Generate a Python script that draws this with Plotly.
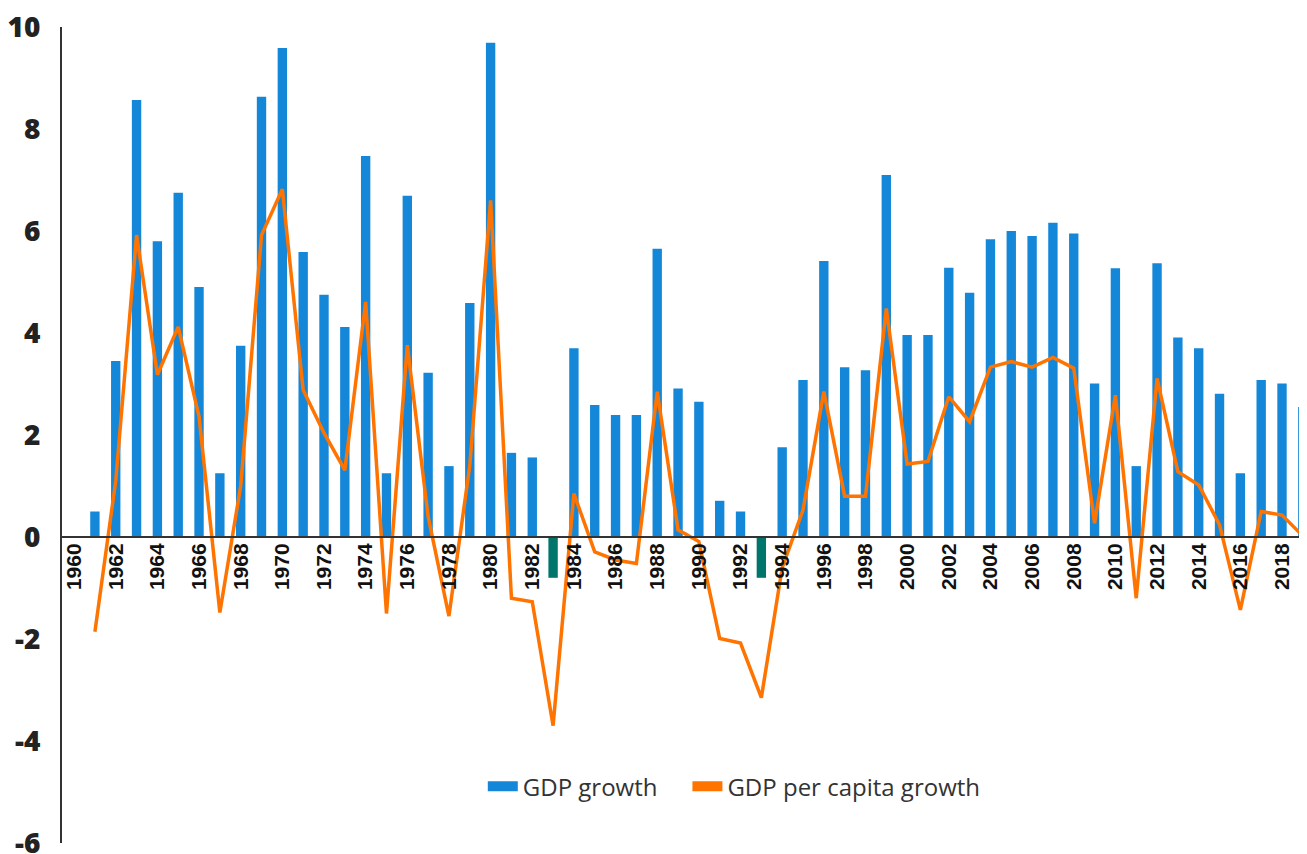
import plotly.graph_objects as go

years = list(range(1961, 2020))

gdp_growth = [0.5, 3.45, 8.57, 5.8, 6.75, 4.9, 1.25, 3.75, 8.63, 9.59,
              5.59, 4.75, 4.12, 7.47, 1.25, 6.69, 3.22, 1.39, 4.59, 9.69,
              1.65, 1.56, -0.8, 3.7, 2.59, 2.39, 2.39, 5.65, 2.91, 2.65,
              0.71, 0.5, -0.8, 1.76, 3.08, 5.41, 3.33, 3.27, 7.1, 3.96,
              3.96, 5.28, 4.79, 5.84, 6.0, 5.9, 6.16, 5.95, 3.01, 5.27,
              1.39, 5.37, 3.91, 3.7, 2.81, 1.25, 3.08, 3.01, 2.55]

gdp_pc_growth = [-1.86, 1.1, 5.92, 3.18, 4.12, 2.36, -1.48, 1.0, 5.92, 6.82,
                 2.88, 2.04, 1.31, 4.61, -1.5, 3.76, 0.4, -1.55, 1.4, 6.6,
                 -1.2, -1.27, -3.7, 0.85, -0.29, -0.45, -0.52, 2.85, 0.14, -0.09,
                 -1.99, -2.08, -3.15, -0.6, 0.53, 2.85, 0.8, 0.8, 4.48, 1.43,
                 1.48, 2.75, 2.26, 3.33, 3.44, 3.33, 3.52, 3.31, 0.27, 2.78,
                 -1.2, 3.11, 1.28, 1.02, 0.24, -1.43, 0.5, 0.43, 0.02]

tick_years = list(range(1960, 2019, 2))
y_ticks = [-6, -4, -2, 0, 2, 4, 6, 8, 10]
y_tick_text = ["-6", "-4", "-2", "0", "2", "4", "6", "8", "10"]

BLUE = "#1487D8"
TEAL = "#00756C"
ORANGE = "#FF7400"

bar_colors = [BLUE if v >= 0 else TEAL for v in gdp_growth]

fig = go.Figure()
fig.add_trace(go.Bar(
    x=years, y=gdp_growth, name="GDP growth",
    marker=dict(color=bar_colors, line=dict(width=0)),
    width=0.45, showlegend=False,
))
fig.add_trace(go.Scatter(
    x=years, y=gdp_pc_growth, name="GDP per capita growth",
    mode="lines", line=dict(color=ORANGE, width=3.5),
    showlegend=False,
))
# legend entries (rectangular swatches); non-breaking spaces widen the gap between items
fig.add_trace(go.Scatter(x=[None], y=[None], name="GDP growth\u00a0\u00a0\u00a0\u00a0", mode="lines",
                         line=dict(color=BLUE, width=16)))
fig.add_trace(go.Scatter(x=[None], y=[None], name="GDP per capita growth", mode="lines",
                         line=dict(color=ORANGE, width=16)))

# page body has an 8px margin, so the figure is sized/offset to compensate
fig.update_layout(
    template="none",
    width=1299, height=846,
    margin=dict(l=54, r=0, t=19, b=11, autoexpand=False),
    paper_bgcolor="white", plot_bgcolor="white",
    barmode="overlay",
    font=dict(family="Open Sans", color="#333333"),
    legend=dict(orientation="h", x=0.54, xanchor="center", y=0.069, yanchor="middle",
                font=dict(size=24, color="#333333", family="Open Sans"),
                traceorder="normal", bgcolor="rgba(0,0,0,0)"),
    xaxis=dict(
        range=[1959.42, 2019.2],
        anchor="free", position=6/16,
        tickmode="array", tickvals=tick_years, ticktext=[str(y) for y in tick_years],
        tickangle=-90,
        tickfont=dict(family="Liberation Sans", size=21, color="#111111", weight="bold"),
        showline=True, linecolor="#333333", linewidth=2,
        showgrid=False, zeroline=False, ticks="", automargin=False,
        ticklabelstandoff=-3,
    ),
    yaxis=dict(
        range=[-6, 10], domain=[0, 1],
        tickmode="array", tickvals=y_ticks, ticktext=y_tick_text,
        tickfont=dict(family="Open Sans", size=28, color="#222222", weight=800),
        showline=True, linecolor="#333333", linewidth=2,
        showgrid=False, zeroline=False, ticks="", ticklabelstandoff=14,
        automargin=False, ticklabeloverflow="allow",
    ),
)

fig.write_html("out.html")
